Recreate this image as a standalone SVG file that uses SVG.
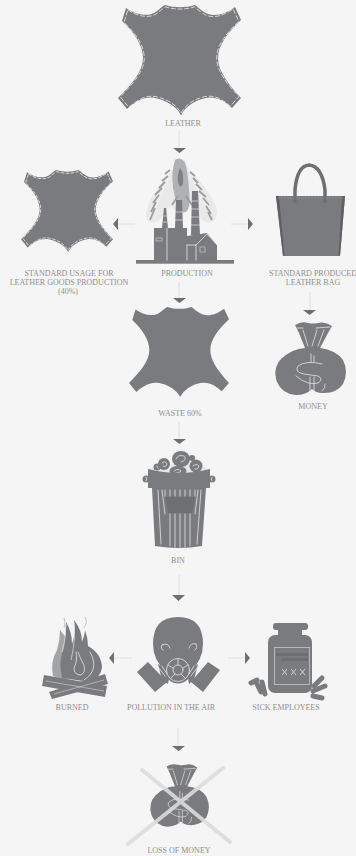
<svg xmlns="http://www.w3.org/2000/svg" xmlns:xlink="http://www.w3.org/1999/xlink" width="356" height="856" viewBox="0 0 356 856">
<style>
.f{fill:#7a7b7e}
.lb{fill:none;stroke:#e4e4e4;stroke-width:.8;stroke-linecap:round}
.t{font-family:"Liberation Serif","Times New Roman",serif;font-size:8px;fill:#8f8f8f;text-anchor:middle}
.c{stroke:#dedede;stroke-width:1;fill:none}
.h{fill:#6e6f73}
.s{fill:none;stroke:#e6e6e6;stroke-width:.9;stroke-dasharray:5 2}
</style>
<defs>
<path id="hide" d="M126,8 C134,14 146,17 154,13 C158,11 161,7 165,5 C175,8 185,8 195,5 C199,8 203,12 208,14 C217,17 227,13 235,7 L241,20 C228,32 218,45 218,58 C218,72 230,86 241,98 L232,108 C224,100 214,96 206,98 C195,100 186,106 181,115 C176,106 166,100 155,98 C145,96 136,101 127,109 L118,98 C130,86 143,72 143,58 C143,45 134,32 122,21 Z"/>
<g id="bag">
<path class="f" d="M295,325 Q302,321 308,323 Q313,324 318,323 Q325,321 332,326 L328,333 L320,348 Q336,350 343,360 Q349,372 343,384 Q336,394 322,393 Q316,393 312,389 Q306,395 296,395 Q282,394 277,382 Q272,368 282,358 Q292,349 305,348 L299,333 Z"/>
<path class="lb" d="M297,328 L303,328 M316,328 L330,327 M303,330 L308,346 M317,330 L312,346 M324,330 L318,346 M311,354 L311,362 M314,356 L314,362 M322,364 Q306,360 298,366 Q294,372 304,374 L318,376 Q324,379 318,383 Q308,386 296,376 M310,377 L310,391 M314,377 L314,391 M322,391 Q326,388 325,384"/>
</g>
</defs>
<rect width="356" height="856" fill="#f5f5f5"/>

<g id="connectors">
<path class="c" d="M179,131V147M135,224H118M231,224H247M179,282V298M310,292V310M179,422V439M179,575V595M132,658H114M228,658H244M178,728V746"/>
<path class="h" d="M173,148H186L179.500,153ZM113,224L118,218V230ZM253,224L248,218V230ZM173,298H186L179.500,303ZM303,310H316L309.500,315ZM173,439H186L179.500,444ZM172,595H185L178.500,601ZM109,658L114,652V664ZM250,658L245,652V664ZM172,746H185L178.500,751Z"/>
</g>

<g id="leather">
<use href="#hide" class="f"/>
<use href="#hide" class="s" transform="translate(179.500,60) scale(.965) translate(-179.500,-60)"/>
<text class="t" x="183" y="126">LEATHER</text>
</g>

<g id="standard-usage">
<use href="#hide" class="f" transform="translate(21,170) scale(.748,.745) translate(-118,-5)"/>
<use href="#hide" class="s" transform="translate(67,211) scale(.72,.715) translate(-179.500,-60)" style="stroke-width:1.200"/>
<text class="t" x="69" y="276">STANDARD USAGE FOR</text>
<text class="t" x="69" y="285">LEATHER GOODS PRODUCTION</text>
<text class="t" x="68" y="294">(40%)</text>
</g>

<g id="production">
<path d="M176,166 Q165,178 155,192 Q146,206 146,216 Q148,224 156,222 Q164,218 170,206 Q180,216 190,206 L198,216 Q208,226 214,220 Q220,214 214,202 Q204,184 190,170 Q184,160 176,166 Z" fill="#e9e9e9"/>
<path d="M175,160 Q180,156 185,162 Q188,172 189,190 Q191,208 186,212 Q180,214 177,206 L173,188 Q171,172 175,160 Z" fill="#b0b1b3"/>
<path d="M180,168 Q184,172 183,184 Q180,190 178,182 Q177,174 180,168 Z" fill="#808184"/>
<path d="M172,169 L155,208 M188,169 L208,210" stroke="#f5f5f5" stroke-width="1" fill="none"/>
<path d="M170,170 L165,174 M168,176 L162,181 M165,182 L159,188 M162,188 L155,195 M159,195 L153,203 M156,202 L151,212 M155,208 L150,220 M190,172 L195,176 M193,178 L198,183 M196,184 L202,190 M199,191 L206,197 M203,198 L209,205 M206,206 L211,214 M208,212 L212,220 M178,196 L172,205 M186,196 L192,205" stroke="#9c9d9f" stroke-width="1.800" fill="none"/>
<path class="f" d="M162,228L164,208H166L168,228ZM175,228L176,200H182L183,228ZM191,235L192,191H198L200,235Z"/>
<path d="M163,222H169M163.500,216H168M175,220H183M175,212H183M191,225H200M191,217H199M191,209H199M191,201H198" stroke="#e4e4e4" stroke-width=".7" fill="none"/>
<path class="f" d="M154,228H187V260H154ZM187,236L207,233L217,245V260H187Z"/>
<rect class="f" x="136" y="260" width="98" height="3.700"/>
<path class="lb" d="M167,228V260M187,245H196M196,245V260M196,245L207,234M207,234L217,245M187,245V260"/>
<rect x="156" y="238" width="6" height="3" fill="none" stroke="#d8d8d8" stroke-width=".6"/>
<rect x="200" y="247" width="5" height="5" fill="none" stroke="#d8d8d8" stroke-width=".6"/>
<text class="t" x="187" y="276">PRODUCTION</text>
</g>

<g id="leather-bag">
<path d="M295,203 L295,190 Q297,166 309,165 Q322,166 325,190 L325,203" fill="none" stroke="#6e6f73" stroke-width="3.500"/>
<path class="f" d="M276,196H345L340,256H283Z"/>
<path d="M276,196L283,256H284.500L279,196ZM345,196L340,256H338.500L342,196Z" fill="#5f6064"/>
<path d="M278,198H343" fill="none" stroke="#a0a1a3" stroke-width=".6" stroke-dasharray="2 1"/>
<path d="M295,196V203M325,196V203" stroke="#6e6f73" stroke-width="3"/>
<text class="t" x="313" y="276">STANDARD PRODUCED</text>
<text class="t" x="313" y="285">LEATHER BAG</text>
</g>

<g id="waste">
<use href="#hide" class="f" transform="translate(129,307) scale(.813,.818) translate(-118,-5)"/>
<text class="t" x="180" y="416">WASTE 60%</text>
</g>

<g id="money">
<use href="#bag"/>
<text class="t" x="313" y="409">MONEY</text>
</g>

<g id="bin">
<ellipse cx="179" cy="470" rx="29" ry="6" fill="#e6e6e6"/>
<g class="f">
<ellipse cx="181" cy="459" rx="9" ry="8"/><ellipse cx="164" cy="464" rx="6" ry="6"/><ellipse cx="196" cy="466" rx="6.500" ry="6.500"/><ellipse cx="178" cy="471" rx="8.500" ry="5"/><circle cx="157" cy="467" r="3.500"/><circle cx="192" cy="458" r="3"/><circle cx="146" cy="479" r="3.500"/><circle cx="212" cy="479" r="3.500"/>
</g>
<path class="lb" d="M176,459 Q178,454 184,456 Q188,460 181,462 M162,463 Q165,460 167,464 Q166,468 163,466 M193,466 Q196,463 199,466 Q198,470 195,469 M174,471 Q178,468 181,471 Q179,474 176,473 M157,466 L158,468 M146,477 Q148,479 146,481 M212,477 Q210,479 212,481"/>
<path class="f" d="M148,469 Q179,477 210,469 V488 H148Z"/>
<path class="f" d="M152,488H206L202,546 Q179,550 155,546Z"/>
<path class="h" d="M166,497H195L192,513H168Z"/>
<path class="lb" d="M158,490L161,544M162,490L165,514M198,490L195,514M201,490L197,544M170,514V546M175,514V547M180,514V547M185,514V547M190,514V546M165,490V496M170,490V496M175,490V496M180,490V496M185,490V496M190,490V496M195,490V496"/>
<text class="t" x="178" y="563">BIN</text>
</g>

<g id="burned">
<path d="M60,630 Q60,640 57,650 Q50,662 53,676 L66,680 L68,640 Z" fill="#a3a4a6"/>
<path class="f" d="M62,678 Q58,660 64,648 Q66,636 66,622 Q72,632 72,644 Q76,634 74,620 Q82,630 82,642 Q85,634 85,630 Q88,638 88,646 Q102,654 102,668 Q100,678 90,682 Z"/>
<path d="M66,624 Q66,640 62,652 M74,622 Q76,640 71,660" fill="none" stroke="#e4e4e4" stroke-width=".7"/>
<path d="M64,618 Q66,622 64,628 M85,617 Q88,622 84,628" fill="none" stroke="#b5b6b8" stroke-width=".8"/>
<path class="lb" d="M76,652 Q78,660 74,668 Q74,675 81,675 Q86,672 84,665 Q80,658 78,652 M90,652 Q100,670 84,680"/>
<path class="f" d="M44,675L107,686L105,697L42,686Z"/>
<path class="f" d="M49,692L105,674L108,684L52,699Z"/>
<path d="M46,681L104,691M54,694L104,680" stroke="#e4e4e4" stroke-width=".5" fill="none"/>
<text class="t" x="72" y="710">BURNED</text>
</g>

<g id="pollution">
<path class="f" d="M178,617 Q203,617 203,644 Q203,660 190,672 H166 Q153,660 153,644 Q153,617 178,617Z"/>
<path class="lb" d="M162,645 Q168,642 170,648 M162,645 Q160,649 163,650 M189,648 Q191,642 196,644 M196,644 Q198,648 195,650"/>
<g class="f">
<path d="M137,672L148,662L167,682L155,692Z"/><path d="M220,670L208,662L191,682L203,692Z"/>
<path d="M158,664L170,672L168,684L162,680Z"/><path d="M198,664L187,672L189,684L194,680Z"/>
<circle cx="178" cy="670" r="13.500"/>
</g>
<circle cx="178" cy="670" r="11.500" class="lb"/>
<circle cx="178" cy="670" r="5" class="lb"/>
<path class="lb" d="M178,659V665M168,665L173,668M188,665L183,668M171,678L175,674M185,678L181,674M159,668L165,676M162,666L167,674M197,668L191,676M194,666L189,674"/>
<text class="t" x="171" y="710">POLLUTION IN THE AIR</text>
</g>

<g id="sick-employees">
<rect class="f" x="273" y="623" width="35" height="7" rx="3"/>
<rect class="f" x="278" y="629" width="24" height="7"/>
<rect class="f" x="268" y="635" width="44" height="58" rx="7"/>
<rect x="274.500" y="647.500" width="35" height="37" fill="none" stroke="#c4c5c6" stroke-width=".8"/>
<path class="h" d="M276,653H308V656H276ZM282,658H308V661H282Z"/>
<path d="M282,669L287,675M287,669L282,675M291,669L296,675M296,669L291,675M300,669L305,675M305,669L300,675" stroke="#e4e4e4" stroke-width=".8"/>
<g stroke="#7a7b7e" stroke-width="5" stroke-linecap="round" fill="none">
<path d="M251,683L257,680M256,682L261,692M262,682L265,694"/>
<path d="M314,686L322,678M313,691L325,686M313,696L322,698"/>
</g>
<text class="t" x="286" y="710">SICK EMPLOYEES</text>
</g>

<g id="loss-of-money">
<use href="#bag" transform="translate(150,764) scale(.83,.86) translate(-275,-322)"/>
<path d="M142,770L230,842M223,768L128,844" stroke="#dcdcdc" stroke-width="4" stroke-linecap="round" opacity=".9"/>
<text class="t" x="179" y="853">LOSS OF MONEY</text>
</g>
</svg>
